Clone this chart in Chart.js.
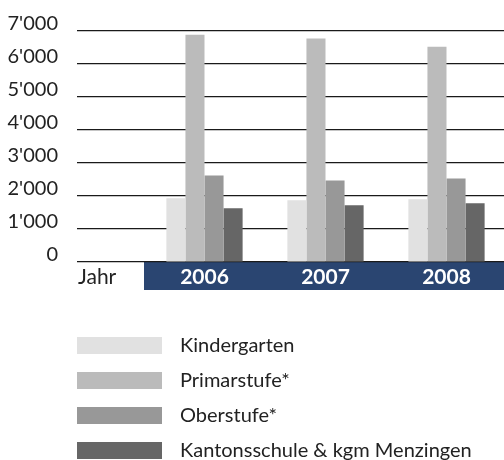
<!DOCTYPE html>
<html>
<head>
<meta charset="utf-8">
<script src="https://cdn.jsdelivr.net/npm/chart.js@4/dist/chart.umd.min.js"></script>
<style>
  body { margin: 0; overflow: hidden; background: #fff; }
  #wrap { width: 504px; height: 460px; overflow: hidden; }
</style>
</head>
<body>
<div id="wrap"><canvas id="chart" width="507" height="460"></canvas></div>
<script>
// Chart data
const years = ["2006", "2007", "2008"];
const kindergarten = [1930, 1870, 1900];
const primarstufe = [6890, 6770, 6520];
const oberstufe = [2620, 2470, 2530];
const kantonsschule = [1630, 1720, 1780];
const seriesNames = ["Kindergarten", "Primarstufe*", "Oberstufe*", "Kantonsschule & kgm Menzingen"];
const seriesColours = ["#e1e1e1", "#bbbbbb", "#989898", "#666666"];

const FONT = "Lato, 'Open Sans', sans-serif";

// Draws the "Jahr" label and the legend below the chart
const extrasPlugin = {
    id: "extras",
    afterDraw(chart) {
        const ctx = chart.ctx;
        const xScale = chart.scales.x;
        ctx.save();
        ctx.fillStyle = "#222";
        ctx.font = "21px " + FONT;
        ctx.textBaseline = "middle";
        ctx.textAlign = "left";
        ctx.fillText("Jahr", 78, (xScale.top + xScale.bottom) / 2 + 1);

        // Legend rows
        ctx.font = "20px " + FONT;
        chart.data.datasets.forEach(function(ds, i) {
            const top = 337 + i * 35;
            ctx.fillStyle = ds.backgroundColor;
            ctx.fillRect(77, top, 85, 17);
            ctx.fillStyle = "#222";
            ctx.fillText(ds.label, 180, top + 8.5);
        });
        ctx.restore();
    }
};

const datasets = [kindergarten, primarstufe, oberstufe, kantonsschule].map(function(values, i) {
    return {
        label: seriesNames[i],
        data: values,
        backgroundColor: seriesColours[i],
        borderWidth: 0
    };
});

const ctx = document.getElementById("chart").getContext("2d");
const chart = new Chart(ctx, {
    type: "bar",
    data: { labels: years, datasets: datasets },
    options: {
        responsive: false,
        animation: false,
        layout: { padding: { top: 29, left: 0, right: 0, bottom: 170 } },
        datasets: {
            bar: { categoryPercentage: 0.63, barPercentage: 1.0 }
        },
        plugins: {
            legend: { display: false },
            tooltip: { enabled: false }
        },
        scales: {
            x: {
                backgroundColor: "#2a4571",
                grid: { display: false, drawTicks: false },
                border: { display: false },
                ticks: {
                    color: "#fff",
                    padding: 3,
                    font: { family: FONT, size: 21, weight: "bold" }
                },
                afterFit(scale) { scale.height = 28; }
            },
            y: {
                min: 0,
                max: 7000,
                grid: { color: "#1a1a1a", lineWidth: 1.2, tickLength: 67 },
                border: { display: false },
                ticks: {
                    stepSize: 1000,
                    padding: 19,
                    labelOffset: -7,
                    color: "#222",
                    font: { family: FONT, size: 20 },
                    callback: function(v) {
                        return v >= 1000 ? Math.floor(v / 1000) + "'" + String(v % 1000).padStart(3, "0") : String(v);
                    }
                },
                afterFit(scale) { scale.width = 144; }
            }
        }
    },
    plugins: [extrasPlugin]
});
</script>
</body>
</html>
